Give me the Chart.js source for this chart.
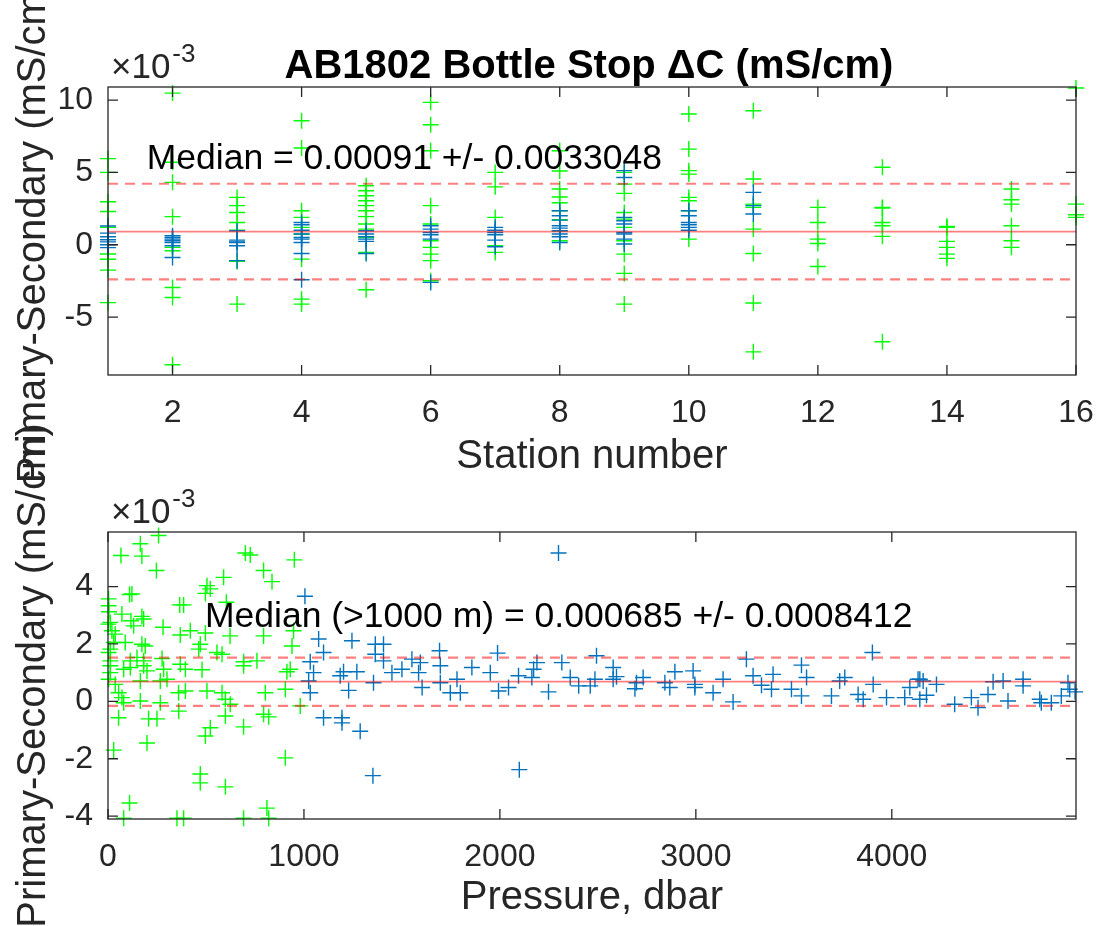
<!DOCTYPE html>
<html>
<head>
<meta charset="utf-8">
<script src="https://cdn.jsdelivr.net/npm/chart.js@4.4.1/dist/chart.umd.min.js"></script>
<style>
html, body { margin: 0; padding: 0; background: #fff; }
#wrap { position: relative; width: 1099px; height: 926px; overflow: hidden; }
#wrap canvas { position: absolute; left: 0; top: 0; }
</style>
</head>
<body>
<div id="wrap">
  <canvas id="topChart" width="1099" height="926"></canvas>
  <canvas id="bottomChart" width="1099" height="926"></canvas>
</div>
<script>
// values in units of 1e-3 mS/cm
// station plot: one list per station (1..16)
const stationGreen = [
  [5.95, 5.0, 2.97, 2.3, 1.2, -0.64, -1.0, -1.75, -4.0],
  [10.48, 5.7, 4.31, 1.94, -0.18, -0.41, -2.95, -3.64, -8.29],
  [3.27, 2.7, 2.23, 1.54, 1.0, -1.15, -4.1],
  [8.57, 6.68, 2.35, 1.89, 1.2, 0.74, -0.99, -3.76, -4.1],
  [4.08, 3.73, 3.39, 3.04, 2.7, 2.35, 1.94, 1.43, 1.08, 0.5, -0.53, -3.11],
  [9.84, 8.29, 6.5, 2.7, 1.43, 0.28, -0.18, -0.65, -1.1, -2.49],
  [5.0, 4.0, 1.89, -0.07, -0.53],
  [6.5, 5.1, 3.85, 3.3, 2.9, 2.35, 1.73, 0.97, 0.28],
  [5.0, 4.19, 3.55, 2.23, 1.77, 1.2, 0.28, -0.65, -1.98, -4.1],
  [9.03, 6.61, 5.12, 4.88, 3.27, 3.04, 2.35, 0.39],
  [9.26, 4.54, 2.81, 2.58, 1.08, -0.6, -4.03, -7.4],
  [2.58, 1.54, 0.39, 0.09, -1.5],
  [5.35, 2.58, 2.53, 1.54, 1.31, 0.58, -6.7],
  [1.27, 1.2, 0.23, -0.18, -0.65, -0.94],
  [3.85, 3.11, 2.81, 1.31, 0.28, -0.18],
  [10.83, 2.81, 2.07, 1.89]
];
const stationBlue = [
  [1.3, 0.8, 0.55, 0.35, 0.2, 0.0, -0.2],
  [0.62, 0.5, 0.39, 0.28, 0.16, -0.07, -0.88],
  [0.97, 0.32, 0.2, 0.16, -0.07, -1.1],
  [1.54, 1.38, 1.0, 0.74, 0.5, 0.39, 0.16, -0.6, -2.42],
  [0.97, 0.74, 0.55, 0.39, 0.23, -0.6],
  [1.31, 1.08, 0.85, 0.69, 0.39, -2.6],
  [1.2, 1.0, 0.85, 0.69, 0.32, -0.14],
  [2.35, 2.0, 1.7, 1.31, 1.15, 0.97, 0.74, 0.55, 0.16],
  [5.12, 4.65, 1.89, 1.66, 1.43, 0.85, 0.74, 0.39, 0.05],
  [2.35, 2.0, 1.54, 1.38, 1.2, 1.0],
  [3.62, 2.7, 2.12],
  [], [], [], [], []
];
const topMedian = 0.91, topSpread = 3.3048;

// pressure plot
const shallowP = [258,165,173,66,247,701,726,951,794,837,590,505,522,497,110,122,3,5,71,173,
  182,117,131,366,386,281,604,12,2,37,88,173,190,12,12,369,420,497,623,794,
  471,463,556,582,939,947,276,369,395,692,760,692,480,913,930,182,199,80,114,284,
  12,165,267,301,37,360,395,505,582,803,905,71,165,267,599,624,981,80,54,207,
  250,361,599,794,820,522,497,692,199,29,905,471,471,599,110,80,352,386,692,811,
  820,3,20,29,3,12,3,54,114,148,182];
const shallowDC = [5.78,5.49,5.06,5.08,4.56,5.17,5.1,4.93,4.56,4.17,4.32,4.03,3.92,3.76,3.72,3.74,3.57,3.12,3.04,2.96,
  2.87,2.81,2.63,3.36,3.36,2.58,3.45,2.75,2.69,2.34,2.05,1.99,1.93,1.82,1.41,2.31,2.46,2.38,2.28,2.28,
  1.99,1.82,1.7,1.64,1.93,2.46,1.49,1.29,1.12,1.38,1.41,1.24,1.1,1.03,1.12,1.24,1.06,1.12,1.18,1.12,
  1.0,0.71,0.71,0.77,0.59,0.3,0.36,0.36,0.3,0.3,0.42,0.13,0.01,-0.05,0.07,-0.1,-0.16,-0.05,-0.57,-0.61,
  -0.61,-0.34,-0.51,-0.45,-0.54,-0.92,-1.21,-0.89,-1.45,-1.7,-1.97,-2.53,-2.84,-2.98,-3.54,-4.07,-4.07,-4.07,-4.07,-3.72,
  -4.07,3.33,2.46,2.05,1.7,1.24,0.77,0.3,1.41,1.53,1.41];
const deepP = [1005,1075,1100,1032,1049,1024,1032,1245,1202,1185,1270,1228,1100,1194,1194,1287,1364,1406,1364,1406,
  1449,1500,1355,1352,1551,1594,1585,1603,1692,1696,1696,1747,1781,1798,1857,1951,1988,1993,2044,2095,
  2163,2189,2172,2248,2316,2359,2402,2461,2299,2099,
  2493,2485,2578,2578,2595,2689,2731,2697,2842,2867,2893,2986,2995,2995,3088,3139,3190,3258,3292,3335,
  3386,3394,3488,3539,3565,3539,3692,3734,3760,3828,3854,3901,3905,3973,4066,4092,4134,4143,4143,4177,
  4160,4228,4321,4406,4440,4491,4517,4568,4593,4670,4670,4755,4763,4814,4865,4899,4908,4935];
const deepDC = [3.66,2.17,1.7,1.38,1.0,0.71,0.3,2.11,1.03,0.89,1.03,0.38,-0.57,-0.57,-0.75,-1.04,1.99,1.99,1.64,1.41,
  1.0,1.12,0.65,-2.59,1.47,1.35,1.0,0.48,1.76,1.24,0.65,0.3,0.77,0.3,1.18,1.0,1.68,0.36,0.48,0.89,
  0.83,1.35,1.12,0.33,1.35,0.83,0.54,0.54,5.17,-2.38,
  1.59,0.77,1.18,0.77,0.86,0.44,0.83,0.65,0.65,0.48,1.03,1.06,0.59,0.48,0.3,0.77,-0.02,1.47,0.89,0.56,
  0.42,0.94,0.42,1.26,0.83,0.19,0.19,0.71,0.83,0.24,0.07,1.7,0.59,0.13,0.13,0.48,0.77,0.77,0.07,0.21,
  0.71,0.59,-0.1,0.13,-0.22,0.24,0.68,0.71,0.01,0.54,0.77,0.07,-0.05,-0.05,0.19,0.65,0.42,0.33];
const deepMedian = 0.685, deepSpread = 0.8412;

// axis limits and ticks
const topXLim = [1, 16], topYLim = [-9, 10.9];
const topXTicks = [2, 4, 6, 8, 10, 12, 14, 16];
const topYTicks = [-5, 0, 5, 10];
const botXLim = [0, 4940], botYLim = [-4.1, 5.9];
const botXTicks = [0, 1000, 2000, 3000, 4000];
const botYTicks = [-4, -2, 0, 2, 4];

const FONT = "'Liberation Sans', Arial, Helvetica, sans-serif";
const AXIS = '#262626';
const GREEN = '#00ff00';
const BLUE = '#0072bd';
const RED = 'rgba(255, 0, 0, 0.5)';

// box, inward ticks, x10^-3, title and median note, matlab style
const matlabAxes = {
  id: 'matlabAxes',
  afterDatasetsDraw(chart, args, opts) {
    const { ctx, chartArea: a, scales } = chart;
    ctx.save();
    ctx.strokeStyle = AXIS;
    ctx.lineWidth = 1.3;
    ctx.strokeRect(a.left, a.top, a.right - a.left, a.bottom - a.top);
    ctx.beginPath();
    scales.x.ticks.forEach(t => {
      const px = scales.x.getPixelForValue(t.value);
      ctx.moveTo(px, a.bottom); ctx.lineTo(px, a.bottom - 10);
      ctx.moveTo(px, a.top); ctx.lineTo(px, a.top + 10);
    });
    scales.y.ticks.forEach(t => {
      const py = scales.y.getPixelForValue(t.value);
      ctx.moveTo(a.left, py); ctx.lineTo(a.left + 10, py);
      ctx.moveTo(a.right, py); ctx.lineTo(a.right - 10, py);
    });
    ctx.stroke();

    ctx.fillStyle = AXIS;
    ctx.textAlign = 'left';
    ctx.textBaseline = 'alphabetic';
    ctx.font = '35px ' + FONT;
    ctx.fillText('\u00d710', a.left + 3, a.top - 9);
    const w = ctx.measureText('\u00d710').width;
    ctx.font = '26px ' + FONT;
    ctx.fillText('-3', a.left + 5 + w, a.top - 25);

    if (opts.title) {
      ctx.fillStyle = '#000';
      ctx.font = 'bold 40px ' + FONT;
      ctx.textAlign = 'center';
      ctx.fillText(opts.title, (a.left + a.right) / 2 - 3, a.top - 9);
    }

    ctx.fillStyle = '#000';
    ctx.font = '35.5px ' + FONT;
    ctx.textAlign = 'left';
    ctx.textBaseline = 'middle';
    ctx.fillText(opts.note, scales.x.getPixelForValue(opts.noteAt[0]), scales.y.getPixelForValue(opts.noteAt[1]));
    ctx.restore();
  }
};

function crosses(points, color, order) {
  return {
    type: 'scatter', data: points, order: order,
    pointStyle: 'cross', pointRadius: 8, pointBorderWidth: 1.4,
    borderColor: color, backgroundColor: color, clip: false
  };
}

function hline(xlim, y, dashed) {
  return {
    type: 'line', order: 0,
    data: [{ x: xlim[0], y: y }, { x: xlim[1], y: y }],
    borderColor: RED, borderWidth: dashed ? 2.2 : 1.8,
    borderDash: dashed ? [10, 7] : [], pointRadius: 0
  };
}

function scalesFor(xlim, ylim, xticks, yticks, xtitle, xHeight) {
  const tickFont = { family: FONT, size: 32 };
  const labelFont = { family: FONT, size: 40 };
  return {
    x: {
      type: 'linear', min: xlim[0], max: xlim[1],
      afterBuildTicks: s => { s.ticks = xticks.map(v => ({ value: v })); },
      afterFit: s => { s.height = xHeight; s.paddingLeft = 0; s.paddingRight = 0; },
      grid: { display: false, drawTicks: false },
      border: { display: false },
      ticks: { font: tickFont, color: AXIS, padding: 19, maxRotation: 0, callback: v => String(v) },
      title: { display: true, text: xtitle, font: labelFont, color: AXIS, padding: { top: 0, bottom: 4 } }
    },
    y: {
      type: 'linear', min: ylim[0], max: ylim[1],
      afterBuildTicks: s => { s.ticks = yticks.map(v => ({ value: v })); },
      afterFit: s => { s.width = 100; s.paddingTop = 0; s.paddingBottom = 0; },
      grid: { display: false, drawTicks: false },
      border: { display: false },
      ticks: { font: tickFont, color: AXIS, padding: 15, callback: v => String(v) },
      title: { display: true, text: 'Primary-Secondary (mS/cm)', font: labelFont, color: AXIS, padding: { top: 2, bottom: 0 } }
    }
  };
}

const common = {
  responsive: false, animation: false,
  events: [],
  plugins: { legend: { display: false }, tooltip: { enabled: false } }
};

// top: station number
const greenTop = [], blueTop = [];
stationGreen.forEach((vals, i) => vals.forEach(v => greenTop.push({ x: i + 1, y: v })));
stationBlue.forEach((vals, i) => vals.forEach(v => blueTop.push({ x: i + 1, y: v })));

new Chart(document.getElementById('topChart'), {
  type: 'scatter',
  data: {
    datasets: [
      hline(topXLim, topMedian, false),
      hline(topXLim, topMedian + topSpread, true),
      hline(topXLim, topMedian - topSpread, true),
      crosses(blueTop, BLUE, 1),
      crosses(greenTop, GREEN, 2)
    ]
  },
  options: Object.assign({}, common, {
    layout: { padding: { left: 8, right: 23, top: 87, bottom: 441 } },
    scales: scalesFor(topXLim, topYLim, topXTicks, topYTicks, 'Station number', 110),
    plugins: Object.assign({}, common.plugins, {
      matlabAxes: {
        title: 'AB1802 Bottle Stop \u0394C (mS/cm)',
        note: 'Median = 0.00091 +/- 0.0033048',
        noteAt: [1.6, 5.9]
      }
    })
  }),
  plugins: [matlabAxes]
});

// bottom: pressure
const greenBot = shallowP.map((p, i) => ({ x: p, y: shallowDC[i] }));
const blueBot = deepP.map((p, i) => ({ x: p, y: deepDC[i] }));
new Chart(document.getElementById('bottomChart'), {
  type: 'scatter',
  data: {
    datasets: [
      hline(botXLim, deepMedian, false),
      hline(botXLim, deepMedian + deepSpread, true),
      hline(botXLim, deepMedian - deepSpread, true),
      crosses(blueBot, BLUE, 1),
      crosses(greenBot, GREEN, 2)
    ]
  },
  options: Object.assign({}, common, {
    layout: { padding: { left: 8, right: 23, top: 532, bottom: 0 } },
    scales: scalesFor(botXLim, botYLim, botXTicks, botYTicks, 'Pressure, dbar', 107),
    plugins: Object.assign({}, common.plugins, {
      matlabAxes: {
        note: 'Median (>1000 m) = 0.000685 +/- 0.0008412',
        noteAt: [495, 2.92]
      }
    })
  }),
  plugins: [matlabAxes]
});
</script>
</body>
</html>
